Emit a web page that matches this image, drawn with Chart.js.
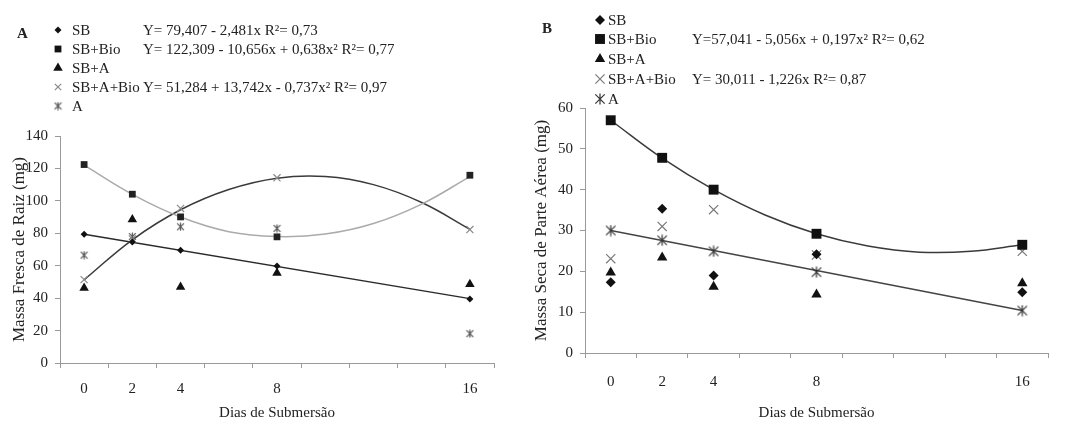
<!DOCTYPE html>
<html>
<head>
<meta charset="utf-8">
<script src="https://cdn.jsdelivr.net/npm/chart.js@4.4.1/dist/chart.umd.min.js"></script>
<style>
  body { margin: 0; background: #fff; }
  #wrap { position: relative; width: 1073px; height: 430px; overflow: hidden; font-family: "Liberation Serif", serif; color: #222; }
  #wrap canvas { position: absolute; top: 0; }
  .txt { position: absolute; font-size: 15px; line-height: 18px; white-space: nowrap; }
  .panel { font-weight: bold; }
</style>
</head>
<body>
<div id="wrap">
  <canvas id="chartA" width="530" height="430" style="left:0;width:530px;height:430px"></canvas>
  <canvas id="chartB" width="543" height="430" style="left:530px;width:543px;height:430px"></canvas>
</div>
<script>
// x values (dias de submersão)
const days = [0, 2, 4, 8, 16];
const fitDays = [0, 2, 4, 6, 8, 10, 12, 14, 16];
const lineDays = [0, 16];

const seriesNames = ["SB", "SB+Bio", "SB+A", "SB+A+Bio", "A"];

// A - massa fresca de raiz (mg)
const rootSB = [79.4, 74.7, 69.5, 59.9, 39.5];
const rootSBBio = [122.4, 104.1, 90.1, 77.8, 115.8];
const rootSBA = [46.3, 88.5, 46.9, 55.5, 48.6];
const rootSBABio = [51.4, 76.5, 95.3, 114.2, 82.3];
const rootA = [66.5, 78, 84, 83, 18.1];
// trend lines
const rootFitSB = [79.4, 39.7];
const rootFitSBBio = [122, 104, 90, 81, 78, 79.5, 86, 98, 115];
const rootFitSBABio = [51.3, 76, 94.5, 107, 114, 115, 110, 99, 82.5];
const rootEquations = ["Y= 79,407 - 2,481x R²= 0,73", "Y= 122,309 - 10,656x + 0,638x² R²= 0,77", "", "Y= 51,284 + 13,742x - 0,737x² R²= 0,97", ""];

// B - massa seca de parte aérea (mg)
const shootSB = [17.3, 35.3, 19.0, 24.2, 14.9];
const shootSBBio = [57.0, 47.8, 40.0, 29.2, 26.5];
const shootSBA = [19.7, 23.4, 16.2, 14.3, 17.1];
const shootSBABio = [23.1, 31.0, 35.1, 24.0, 24.9];
const shootA = [30.0, 27.6, 24.9, 19.8, 10.4];
const shootFitSBBio = [57.0, 47.7, 40.0, 33.8, 29.2, 26.2, 24.7, 24.9, 26.5];
const shootFitA = [30.0, 10.4];
const shootEquations = ["", "Y=57,041 - 5,056x + 0,197x² R²= 0,62", "", "Y= 30,011 - 1,226x R²= 0,87", ""];

const yTicksA = { max: 140, step: 20 };
const yTicksB = { max: 60, step: 10 };

Chart.defaults.font.family = '"Liberation Serif", "Times New Roman", serif';
Chart.defaults.font.size = 15;
Chart.defaults.color = "#222";

const axisGray = "#9a9a9a";

function xy(xs, ys) {
    return xs.map((x, i) => ({ x: x, y: ys[i] }));
}

// asterisk marker (x with a vertical bar)
function asterisk(size, color, lw) {
    const c = document.createElement("canvas");
    c.width = size; c.height = size;
    const g = c.getContext("2d");
    const m = size / 2, r = size / 2 - 0.5, d = r * 0.85;
    g.strokeStyle = color;
    g.lineWidth = lw;
    g.beginPath();
    g.moveTo(m, m - r); g.lineTo(m, m + r);
    g.moveTo(m - d, m - d); g.lineTo(m + d, m + d);
    g.moveTo(m + d, m - d); g.lineTo(m - d, m + d);
    g.stroke();
    return c;
}

function points(label, data, style, radius, color, bw) {
    return {
        label: label, data: data, showLine: false,
        pointStyle: style, pointRadius: radius,
        pointBackgroundColor: color, pointBorderColor: color,
        pointBorderWidth: bw || 0
    };
}

function fitLine(data, color, tension) {
    return {
        data: data, borderColor: color, borderWidth: 1.5,
        pointRadius: 0, tension: tension, fill: false
    };
}

function options(p) {
    return {
        responsive: false,
        animation: false,
        events: [],
        layout: { padding: { top: p.top, right: p.right, left: 0, bottom: 0 } },
        plugins: { legend: { display: false }, tooltip: { enabled: false } },
        scales: {
            x: {
                type: "linear", min: -1, max: 17,
                border: { color: axisGray, width: 1 },
                grid: {
                    drawOnChartArea: false, tickLength: 5,
                    tickColor: c => (c.tick && Math.abs(c.tick.value % 2) === 1) ? axisGray : "rgba(0,0,0,0)"
                },
                ticks: {
                    stepSize: 1, autoSkip: false, maxRotation: 0, padding: p.xPad,
                    callback: v => days.includes(v) ? String(v) : ""
                },
                title: { display: true, text: "Dias de Submersão", font: { size: 15 }, padding: { top: 0, bottom: 8 } },
                afterFit: s => { s.height = p.xHeight; }
            },
            y: {
                type: "linear", min: 0, max: p.yMax,
                border: { color: axisGray, width: 1 },
                grid: { drawOnChartArea: false, tickLength: 5, tickColor: axisGray },
                ticks: { stepSize: p.yStep, padding: 7 },
                title: { display: true, text: p.yTitle, font: { size: 17 }, padding: { top: p.yTitlePad, bottom: 0 } },
                afterFit: s => { s.width = p.yWidth; }
            }
        }
    };
}

new Chart(document.getElementById("chartA"), {
    type: "line",
    data: {
        datasets: [
            points(seriesNames[0], xy(days, rootSB), "rectRot", 3.5, "#111"),
            points(seriesNames[1], xy(days, rootSBBio), "rect", 4.8, "#222"),
            points(seriesNames[2], xy(days, rootSBA), "triangle", 5.5, "#111"),
            points(seriesNames[3], xy(days, rootSBABio), "crossRot", 5, "#8a8a8a", 1.2),
            points(seriesNames[4], xy(days, rootA), asterisk(9, "#555", 1.2), 4, "#555"),
            fitLine(xy(lineDays, rootFitSB), "#2a2a2a", 0),
            fitLine(xy(fitDays, rootFitSBBio), "#ababab", 0.4),
            fitLine(xy(fitDays, rootFitSBABio), "#3a3a3a", 0.4)
        ]
    },
    options: options({
        top: 136, right: 36, xPad: 12, xHeight: 67, yWidth: 60, yTitlePad: 9,
        yMax: yTicksA.max, yStep: yTicksA.step, yTitle: "Massa Fresca de Raiz (mg)"
    })
});

new Chart(document.getElementById("chartB"), {
    type: "line",
    data: {
        datasets: [
            points(seriesNames[0], xy(days, shootSB), "rectRot", 5, "#111"),
            points(seriesNames[1], xy(days, shootSBBio), "rect", 7, "#111"),
            points(seriesNames[2], xy(days, shootSBA), "triangle", 6, "#111"),
            points(seriesNames[3], xy(days, shootSBABio), "crossRot", 6.5, "#7a7a7a", 1.2),
            points(seriesNames[4], xy(days, shootA), asterisk(12, "#333", 1.2), 6, "#333"),
            fitLine(xy(fitDays, shootFitSBBio), "#3a3a3a", 0.4),
            fitLine(xy(lineDays, shootFitA), "#444", 0)
        ]
    },
    options: options({
        top: 108, right: 25, xPad: 15, xHeight: 77, yWidth: 55, yTitlePad: 1,
        yMax: yTicksB.max, yStep: yTicksB.step, yTitle: "Massa Seca de Parte Aérea (mg)"
    })
});

// legends with the regression equations
const wrap = document.getElementById("wrap");

function addText(text, x, yc, cls) {
    const d = document.createElement("div");
    d.className = "txt" + (cls ? " " + cls : "");
    d.textContent = text;
    d.style.left = x + "px";
    d.style.top = (yc - 9) + "px";
    wrap.appendChild(d);
}

function addIcon(style, radius, color, bw, cx, cy) {
    const size = 18;
    const c = document.createElement("canvas");
    c.width = size; c.height = size;
    c.style.left = (cx - size / 2) + "px";
    c.style.top = (cy - size / 2) + "px";
    c.style.width = size + "px"; c.style.height = size + "px";
    const g = c.getContext("2d");
    g.fillStyle = color; g.strokeStyle = color; g.lineWidth = bw;
    Chart.helpers.drawPoint(g, { pointStyle: style, radius: radius, borderWidth: bw }, size / 2, size / 2);
    wrap.appendChild(c);
}

function legend(cfg) {
    addText(cfg.letter, cfg.letterX, cfg.letterY, "panel");
    cfg.icons.forEach((ic, i) => {
        const yc = cfg.rows[i];
        addIcon(ic[0], ic[1], ic[2], ic[3], cfg.iconX, yc);
        addText(seriesNames[i], cfg.textX, yc);
        if (cfg.eqs[i]) addText(cfg.eqs[i], cfg.eqX, yc);
    });
}

legend({
    letter: "A", letterX: 17, letterY: 33,
    rows: [30, 49, 68, 87, 106], iconX: 58, textX: 72, eqX: 143, eqs: rootEquations,
    icons: [["rectRot", 3.5, "#111", 0], ["rect", 4.8, "#111", 0], ["triangle", 5.5, "#111", 0],
            ["crossRot", 4.5, "#8a8a8a", 1.2], [asterisk(9, "#555", 1.2), 4, "#555", 0]]
});

legend({
    letter: "B", letterX: 542, letterY: 28,
    rows: [20, 39, 59, 79, 99], iconX: 600, textX: 608, eqX: 692, eqs: shootEquations,
    icons: [["rectRot", 5, "#111", 0], ["rect", 7, "#111", 0], ["triangle", 6, "#111", 0],
            ["crossRot", 6.5, "#7a7a7a", 1.2], [asterisk(12, "#333", 1.2), 6, "#333", 0]]
});
</script>
</body>
</html>
